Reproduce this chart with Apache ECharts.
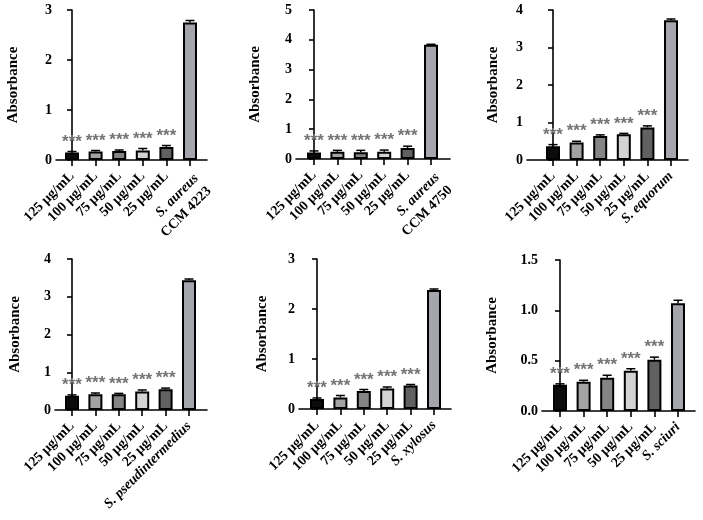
<!DOCTYPE html>
<html><head><meta charset="utf-8">
<script src="https://cdn.jsdelivr.net/npm/echarts@6/dist/echarts.min.js"></script>
<style>html,body{margin:0;padding:0;background:#fff}#c{width:703px;height:520px}</style>
</head><body><div id="c"></div><script>
// ---- data ----
const concentrations = ['125 μg/mL','100 μg/mL','75 μg/mL','50 μg/mL','25 μg/mL'];
const controlSpecies = ['S. aureus','S. aureus','S. equorum','S. pseudintermedius','S. xylosus','S. sciuri'];
const controlStrains = ['CCM 4223','CCM 4750','','','',''];
const significance = ['***','***','***','***','***',''];
const p1Values = [0.15,0.17,0.18,0.19,0.26,2.75];
const p1Errors = [0.02,0.02,0.02,0.04,0.03,0.04];
const p2Values = [0.22,0.24,0.23,0.24,0.37,3.83];
const p2Errors = [0.05,0.05,0.06,0.06,0.06,0.02];
const p3Values = [0.37,0.47,0.64,0.69,0.87,3.73];
const p3Errors = [0.04,0.03,0.03,0.02,0.04,0.03];
const p4Values = [0.38,0.42,0.42,0.49,0.55,3.44];
const p4Errors = [0.02,0.03,0.02,0.04,0.03,0.03];
const p5Values = [0.20,0.23,0.36,0.41,0.47,2.38];
const p5Errors = [0.02,0.04,0.03,0.03,0.02,0.02];
const p6Values = [0.26,0.29,0.33,0.40,0.51,1.07];
const p6Errors = [0.01,0.015,0.025,0.02,0.025,0.03];
const yMaxes = [3,5,4,4,3,1.5];
const yIntervals = [1,1,1,1,1,0.5];
const yDecimals = [0,0,0,0,0,1];

// ---- style / layout ----
const barColors = ['#0b0b0b','#a3a3a3','#858585','#d3d3d3','#616161','#a5a5ad'];
const layout = [
  {axisX:56,  right:207, top:10,  zero:160, first:72,  last:190, nameGap:35},
  {axisX:296, right:450, top:10,  zero:159, first:314, last:431, nameGap:33},
  {axisX:527, right:688, top:10,  zero:160, first:553, last:671, nameGap:26},
  {axisX:55,  right:207, top:259, zero:410, first:72,  last:189, nameGap:32},
  {axisX:299, right:451, top:259, zero:409, first:317, last:434, nameGap:29},
  {axisX:542, right:695, top:260, zero:411, first:560, last:678, nameGap:42}
];
const allValues = [p1Values,p2Values,p3Values,p4Values,p5Values,p6Values];
const allErrors = [p1Errors,p2Errors,p3Errors,p4Errors,p5Errors,p6Errors];
const SERIF = '"Liberation Serif", "Times New Roman", serif';
const idx = [0,1,2,3,4,5];
const LABEL_MARGIN = 14;

const textBase = {color: '#000', fontFamily: SERIF, fontWeight: 'bold', fontSize: 14};
const grids = [], xAxes = [], yAxes = [], series = [];
layout.forEach((L, p) => {
  const spacing = (L.last - L.first) / 5;
  const xmin = -(L.first - L.axisX) / spacing, xmax = 5 + (L.right - L.last) / spacing;
  grids.push({left: L.axisX, top: L.top, width: L.right - L.axisX, height: L.zero - L.top});
  // main axis: line, ticks, concentration labels
  xAxes.push({
    gridIndex: p, type: 'value', position: 'bottom', min: xmin, max: xmax,
    splitLine: {show: false},
    axisLine: {show: true, onZero: false, lineStyle: {color: '#000', width: 1.6}},
    axisTick: {show: true, length: 6, customValues: idx, lineStyle: {color: '#000', width: 1.6}},
    axisLabel: Object.assign({
      customValues: [0,1,2,3,4], rotate: 45, margin: LABEL_MARGIN, hideOverlap: false,
      showMinLabel: true, showMaxLabel: true,
      formatter: v => concentrations[Math.round(v)]
    }, textBase)
  });
  // overlay axis: control label only
  const twoLine = !!controlStrains[p];
  const ctrl = twoLine ? '{i|' + controlSpecies[p] + '}\n{n|' + controlStrains[p] + '}' : '{i|' + controlSpecies[p] + '}';
  xAxes.push({
    gridIndex: p, type: 'value', position: 'bottom', min: xmin, max: xmax,
    splitLine: {show: false}, axisLine: {show: false, onZero: false}, axisTick: {show: false},
    axisLabel: Object.assign({
      customValues: [5], rotate: 45, margin: twoLine ? LABEL_MARGIN - 4 : LABEL_MARGIN, hideOverlap: false,
      showMinLabel: true, showMaxLabel: true, lineHeight: 18,
      verticalAlign: twoLine ? 'top' : 'middle',
      formatter: () => ctrl,
      rich: {
        i: Object.assign({fontStyle: 'italic', lineHeight: 18}, textBase),
        n: Object.assign({lineHeight: 18}, textBase)
      }
    }, textBase)
  });
  yAxes.push({
    gridIndex: p, type: 'value', min: 0, max: yMaxes[p], interval: yIntervals[p],
    name: 'Absorbance', nameLocation: 'middle', nameGap: L.nameGap,
    nameTextStyle: {fontFamily: SERIF, fontWeight: 'bold', fontSize: 15, color: '#000'},
    splitLine: {show: false},
    axisLine: {show: true, lineStyle: {color: '#000', width: 1.6}},
    axisTick: {show: true, length: 5, lineStyle: {color: '#000', width: 1.6}},
    axisLabel: Object.assign({margin: 4, formatter: v => Number(v).toFixed(yDecimals[p])}, textBase)
  });
  const vals = allValues[p], errs = allErrors[p];
  series.push({
    type: 'bar', xAxisIndex: 2 * p, yAxisIndex: p, barWidth: 14,
    data: vals.map((v, i) => [i, v]),
    itemStyle: {color: d => barColors[d.dataIndex], borderColor: '#000', borderWidth: 2},
    animation: false
  });
  series.push({
    type: 'custom', xAxisIndex: 2 * p, yAxisIndex: p, z: 5,
    data: vals.map((v, i) => [i, v, errs[i]]),
    encode: {x: 0, y: 1},
    renderItem: (params, api) => {
      const x = api.value(0), v = api.value(1), e = api.value(2);
      const base = api.coord([x, v]);
      const top = api.coord([x, v + e]);
      const ch = [
        {type: 'line', shape: {x1: base[0], y1: base[1], x2: top[0], y2: top[1]}, style: {stroke: '#000', lineWidth: 1.5}},
        {type: 'line', shape: {x1: top[0] - 4.5, y1: top[1], x2: top[0] + 4.5, y2: top[1]}, style: {stroke: '#000', lineWidth: 1.5}}
      ];
      const s = significance[params.dataIndex];
      if (s) ch.push({type: 'text', x: top[0], y: top[1] - 1,
        style: {text: s, fill: '#747474', font: 'bold 17px "Liberation Sans", Arial, sans-serif', align: 'center', verticalAlign: 'bottom'}});
      return {type: 'group', children: ch};
    },
    animation: false
  });
});

const chart = echarts.init(document.getElementById('c'), null, {renderer: 'canvas'});
chart.setOption({backgroundColor: '#fff', animation: false, grid: grids, xAxis: xAxes, yAxis: yAxes, series: series});
</script></body></html>
